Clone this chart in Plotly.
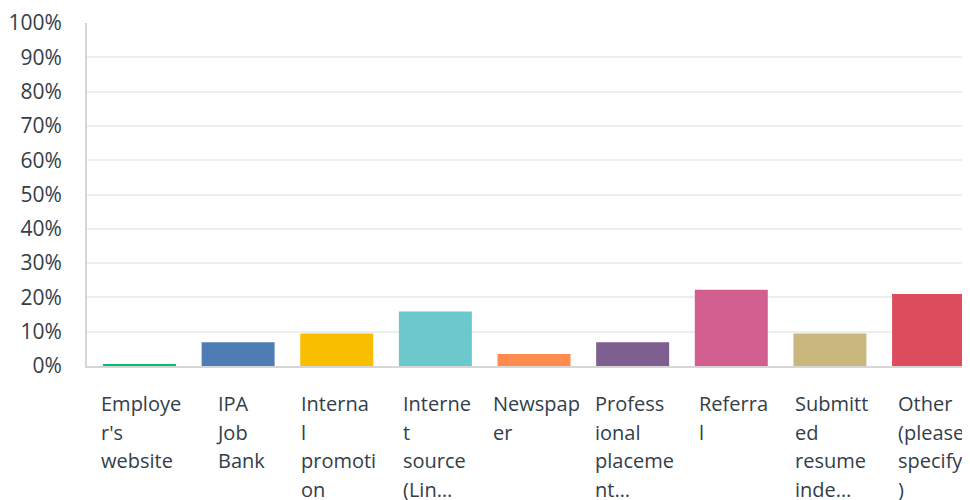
import plotly.graph_objects as go

categories = ["Employer's website", "IPA Job Bank", "Internal promotion",
              "Internet source (LinkedIn...)", "Newspaper",
              "Professional placement...", "Referral",
              "Submitted resume independently", "Other (please specify)"]
label_lines = [["Employe", "r's", "website"], ["IPA", "Job", "Bank"],
               ["Interna", "l", "promoti", "on"], ["Interne", "t", "source", "(Lin…"],
               ["Newspap", "er"], ["Profess", "ional", "placeme", "nt…"],
               ["Referra", "l"], ["Submitt", "ed", "resume", "inde…"],
               ["Other", "(please", "specify", ")"]]
values = [0.6, 6.9, 9.5, 15.9, 3.5, 6.9, 22.2, 9.5, 21.0]
colors = ["#00bf6f", "#507cb6", "#f9be00", "#6bc8cd", "#ff8b4f",
          "#7f5f90", "#d25f90", "#c9b77d", "#db4d5c"]

FONT = "Open Sans"
TXT = "#333e48"

fig = go.Figure(go.Bar(x=list(range(len(categories))), y=values,
                       marker=dict(color=colors, line=dict(width=0)),
                       hovertext=categories, showlegend=False))

for i, lines in enumerate(label_lines):
    txt = "<br>".join(f'<span style="font-size:20px">{l}</span>' for l in lines)
    fig.add_annotation(x=i, y=0, xref="x", yref="paper", xanchor="center",
                       yanchor="top", yshift=-22, xshift=2, align="left",
                       showarrow=False, text=txt,
                       font=dict(family=FONT, size=22, color=TXT))

fig.update_layout(
    width=962, height=492,
    margin=dict(l=79, r=0, t=12, b=134),
    paper_bgcolor="white", plot_bgcolor="white",
    bargap=0.26,
    font=dict(family=FONT, size=20, color=TXT),
    xaxis=dict(range=[-0.532, 8.42], showticklabels=False, showgrid=False,
               zeroline=False, showline=True, linecolor="#d6d6d6", linewidth=2,
               fixedrange=True),
    yaxis=dict(range=[0, 100], dtick=10, ticksuffix="%", showgrid=True,
               gridcolor="#eeeeee", gridwidth=2, zeroline=False,
               showline=True, linecolor="#d6d6d6", linewidth=2,
               ticklabelstandoff=19, ticklabeloverflow="allow",
               tickfont=dict(family=FONT, size=21, color=TXT)),
)

fig.write_html("out.html")
